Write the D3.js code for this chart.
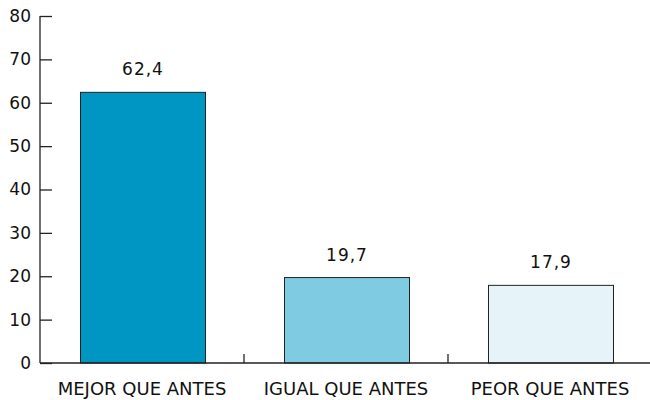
<!DOCTYPE html>
<html>
<head>
<meta charset="utf-8">
<script src="https://cdn.jsdelivr.net/npm/d3@7"></script>
<style>
  body { margin: 0; background: #fff; }
  text { font-family: 'DejaVu Sans', sans-serif; fill: #111; }
</style>
</head>
<body>
<script>
const categories = ['MEJOR QUE ANTES', 'IGUAL QUE ANTES', 'PEOR QUE ANTES']
const values = [62.4, 19.7, 17.9]
const labels = ['62,4', '19,7', '17,9']
const colors = ['#0096c4', '#7fcbe1', '#e6f4fa']
const yTicks = [0, 10, 20, 30, 40, 50, 60, 70, 80]

const width = 650
const height = 400
const margin = { top: 16, right: -2, bottom: 37, left: 40 }
const barWidth = 125

const x = d3.scaleBand()
  .domain(categories)
  .range([margin.left, width - margin.right])

const y = d3.scaleLinear()
  .domain([0, 80])
  .range([height - margin.bottom, margin.top])

const svg = d3.select('body').append('svg')
  .attr('width', width)
  .attr('height', height)

// bars
svg.selectAll('rect.bar')
  .data(values)
  .enter().append('rect')
  .attr('class', 'bar')
  .attr('x', function (d, i) { return x(categories[i]) + x.bandwidth() / 2 - barWidth / 2 + 1 })
  .attr('y', function (d) { return y(d) })
  .attr('width', barWidth)
  .attr('height', function (d) { return y(0) - y(d) })
  .attr('fill', function (d, i) { return colors[i] })
  .attr('stroke', '#222')
  .attr('stroke-width', 1)

// value labels
svg.selectAll('text.val')
  .data(values)
  .enter().append('text')
  .attr('class', 'val')
  .attr('x', function (d, i) { return x(categories[i]) + x.bandwidth() / 2 + 1 })
  .attr('y', function (d) { return y(d) - 17 })
  .attr('text-anchor', 'middle')
  .style('font-size', '17px')
  .style('letter-spacing', '1px')
  .text(function (d, i) { return labels[i] })

// y axis
const yAxis = svg.append('g')
  .attr('transform', 'translate(' + margin.left + ',0)')
  .call(d3.axisRight(y).tickValues(yTicks).tickSize(12).tickFormat(function (d) { return d }))
yAxis.select('.domain').remove()
yAxis.selectAll('.tick line').attr('stroke', '#222').attr('stroke-width', 1.3)
yAxis.selectAll('.tick text')
  .attr('x', -9)
  .attr('text-anchor', 'end')
  .style('font-size', '17px')
yAxis.append('line')
  .attr('x1', 0).attr('x2', 0)
  .attr('y1', y(80)).attr('y2', y(0))
  .attr('stroke', '#222').attr('stroke-width', 1.3)

// x axis
const xAxis = svg.append('g')
  .attr('transform', 'translate(0,' + y(0) + ')')
xAxis.append('line')
  .attr('x1', margin.left).attr('x2', width)
  .attr('stroke', '#222').attr('stroke-width', 1.3)
xAxis.selectAll('line.sep')
  .data(categories.slice(1))
  .enter().append('line')
  .attr('class', 'sep')
  .attr('x1', function (d) { return x(d) }).attr('x2', function (d) { return x(d) })
  .attr('y1', 0).attr('y2', -9)
  .attr('stroke', '#222').attr('stroke-width', 1.3)
xAxis.selectAll('text')
  .data(categories)
  .enter().append('text')
  .attr('x', function (d) { return x(d) + x.bandwidth() / 2 })
  .attr('y', 32)
  .attr('text-anchor', 'middle')
  .style('font-size', '18px')
  .text(function (d) { return d })
</script>
</body>
</html>
